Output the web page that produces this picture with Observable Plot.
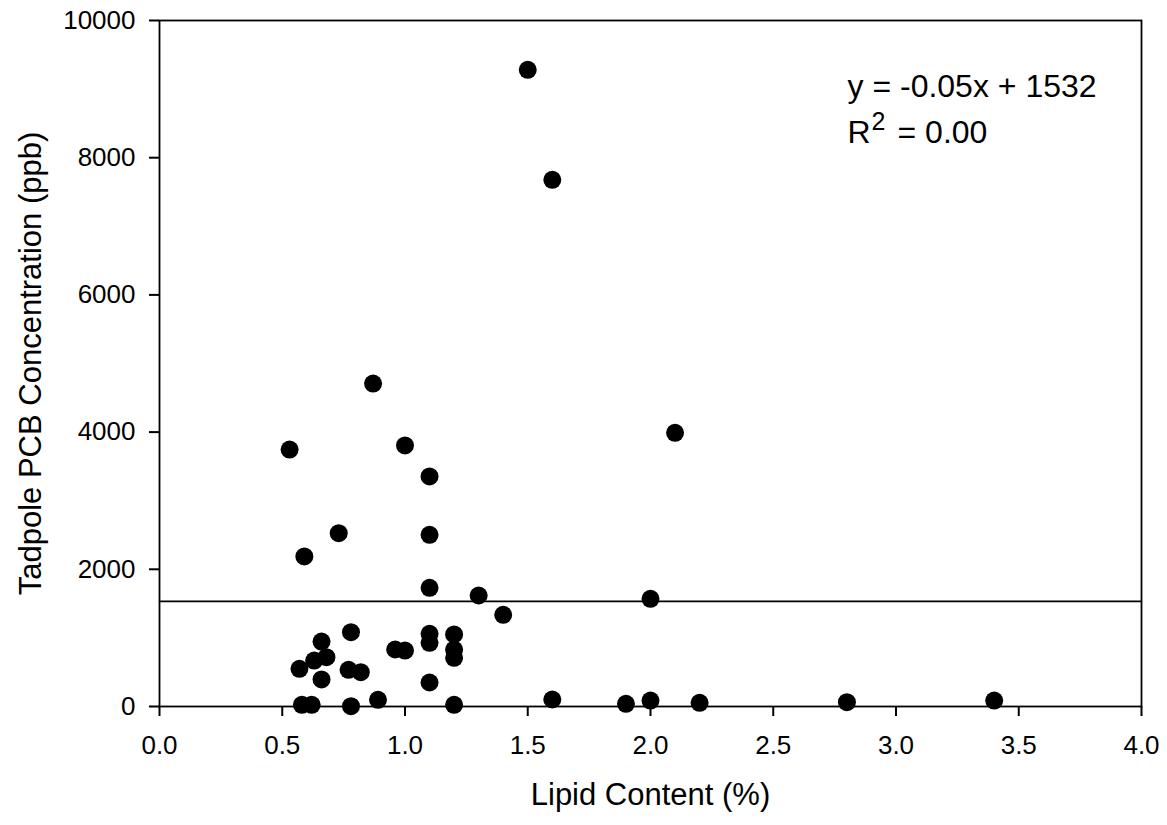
<!DOCTYPE html>
<html>
<head>
<meta charset="utf-8">
<script src="https://cdn.jsdelivr.net/npm/d3@7"></script>
<script src="https://cdn.jsdelivr.net/npm/@observablehq/plot@0.6"></script>
<style>
  html, body { margin: 0; padding: 0; background: white; }
</style>
</head>
<body>
<div id="chart"></div>
<script>
// Lipid content (%) of each tadpole sample
const lipid = [0.53, 0.59, 0.57, 0.58, 0.62, 0.63, 0.66, 0.68, 0.66, 0.73,
               0.77, 0.78, 0.78, 0.82, 0.87, 0.89, 0.96, 1.0, 1.0, 1.1,
               1.1, 1.1, 1.1, 1.1, 1.1, 1.2, 1.2, 1.2, 1.2, 1.3,
               1.4, 1.5, 1.6, 1.6, 1.9, 2.0, 2.0, 2.1, 2.2, 2.8,
               3.4];
// Tadpole PCB concentration (ppb)
const pcb = [3746, 2187, 550, 25, 25, 670, 947, 719, 394, 2526,
             535, 1083, 5, 500, 4708, 98, 831, 816, 3805, 3353,
             2503, 1730, 1060, 928, 350, 1050, 831, 710, 25, 1618,
             1337, 9281, 7678, 102, 39, 1570, 87, 3990, 54, 63,
             87];
// Linear fit
const fitSlope = -0.05;
const fitIntercept = 1532;
const fitR2 = "0.00";

const xDomain = [0, 4];
const yDomain = [0, 10000];
const xTicks = [0, 0.5, 1.0, 1.5, 2.0, 2.5, 3.0, 3.5, 4.0];
const yTicks = [0, 2000, 4000, 6000, 8000, 10000];

const xTitle = "Lipid Content (%)";
const yTitle = "Tadpole PCB Concentration (ppb)";
const eqLine1 = `y = ${fitSlope}x + ${fitIntercept}`;

const points = lipid.map((x, i) => ({x, y: pcb[i]}));
const fitLine = xDomain.map(x => ({x, y: fitIntercept + fitSlope * x}));

const font = "'Liberation Sans', Arial, Helvetica, sans-serif";

const chart = Plot.plot({
  width: 1167,
  height: 825,
  marginLeft: 159,
  marginRight: 26,
  marginTop: 20,
  marginBottom: 119,
  style: {fontFamily: font, background: "white", color: "black"},
  x: {domain: xDomain},
  y: {domain: yDomain},
  marks: [
    Plot.frame({stroke: "black", strokeWidth: 1.8}),
    Plot.axisX({ticks: xTicks, tickFormat: d3.format(".1f"), tickSize: 10, tickPadding: 19,
                fontSize: 26, label: null, strokeWidth: 2}),
    Plot.axisY({ticks: yTicks, tickFormat: d3.format("d"), tickSize: 10, tickPadding: 14,
                fontSize: 26, label: null, strokeWidth: 2}),
    Plot.line(fitLine, {x: "x", y: "y", stroke: "black", strokeWidth: 1.6}),
    Plot.dot(points, {x: "x", y: "y", r: 9, fill: "black", stroke: "none"}),
    Plot.text([xTitle], {frameAnchor: "bottom", dy: 76, lineAnchor: "top", textAnchor: "middle", fontSize: 31}),
    Plot.text([yTitle], {frameAnchor: "left", dx: -128, rotate: -90, lineAnchor: "middle", textAnchor: "middle", fontSize: 31}),
    Plot.text([eqLine1], {frameAnchor: "top-left", dx: 688, dy: 76, lineAnchor: "bottom", textAnchor: "start", fontSize: 32}),
    Plot.text(["R"], {frameAnchor: "top-left", dx: 688, dy: 122, lineAnchor: "bottom", textAnchor: "start", fontSize: 32}),
    Plot.text(["2"], {frameAnchor: "top-left", dx: 712, dy: 109, lineAnchor: "bottom", textAnchor: "start", fontSize: 25}),
    Plot.text([`= ${fitR2}`], {frameAnchor: "top-left", dx: 738, dy: 122, lineAnchor: "bottom", textAnchor: "start", fontSize: 32})
  ]
});
document.getElementById("chart").appendChild(chart);
</script>
</body>
</html>
